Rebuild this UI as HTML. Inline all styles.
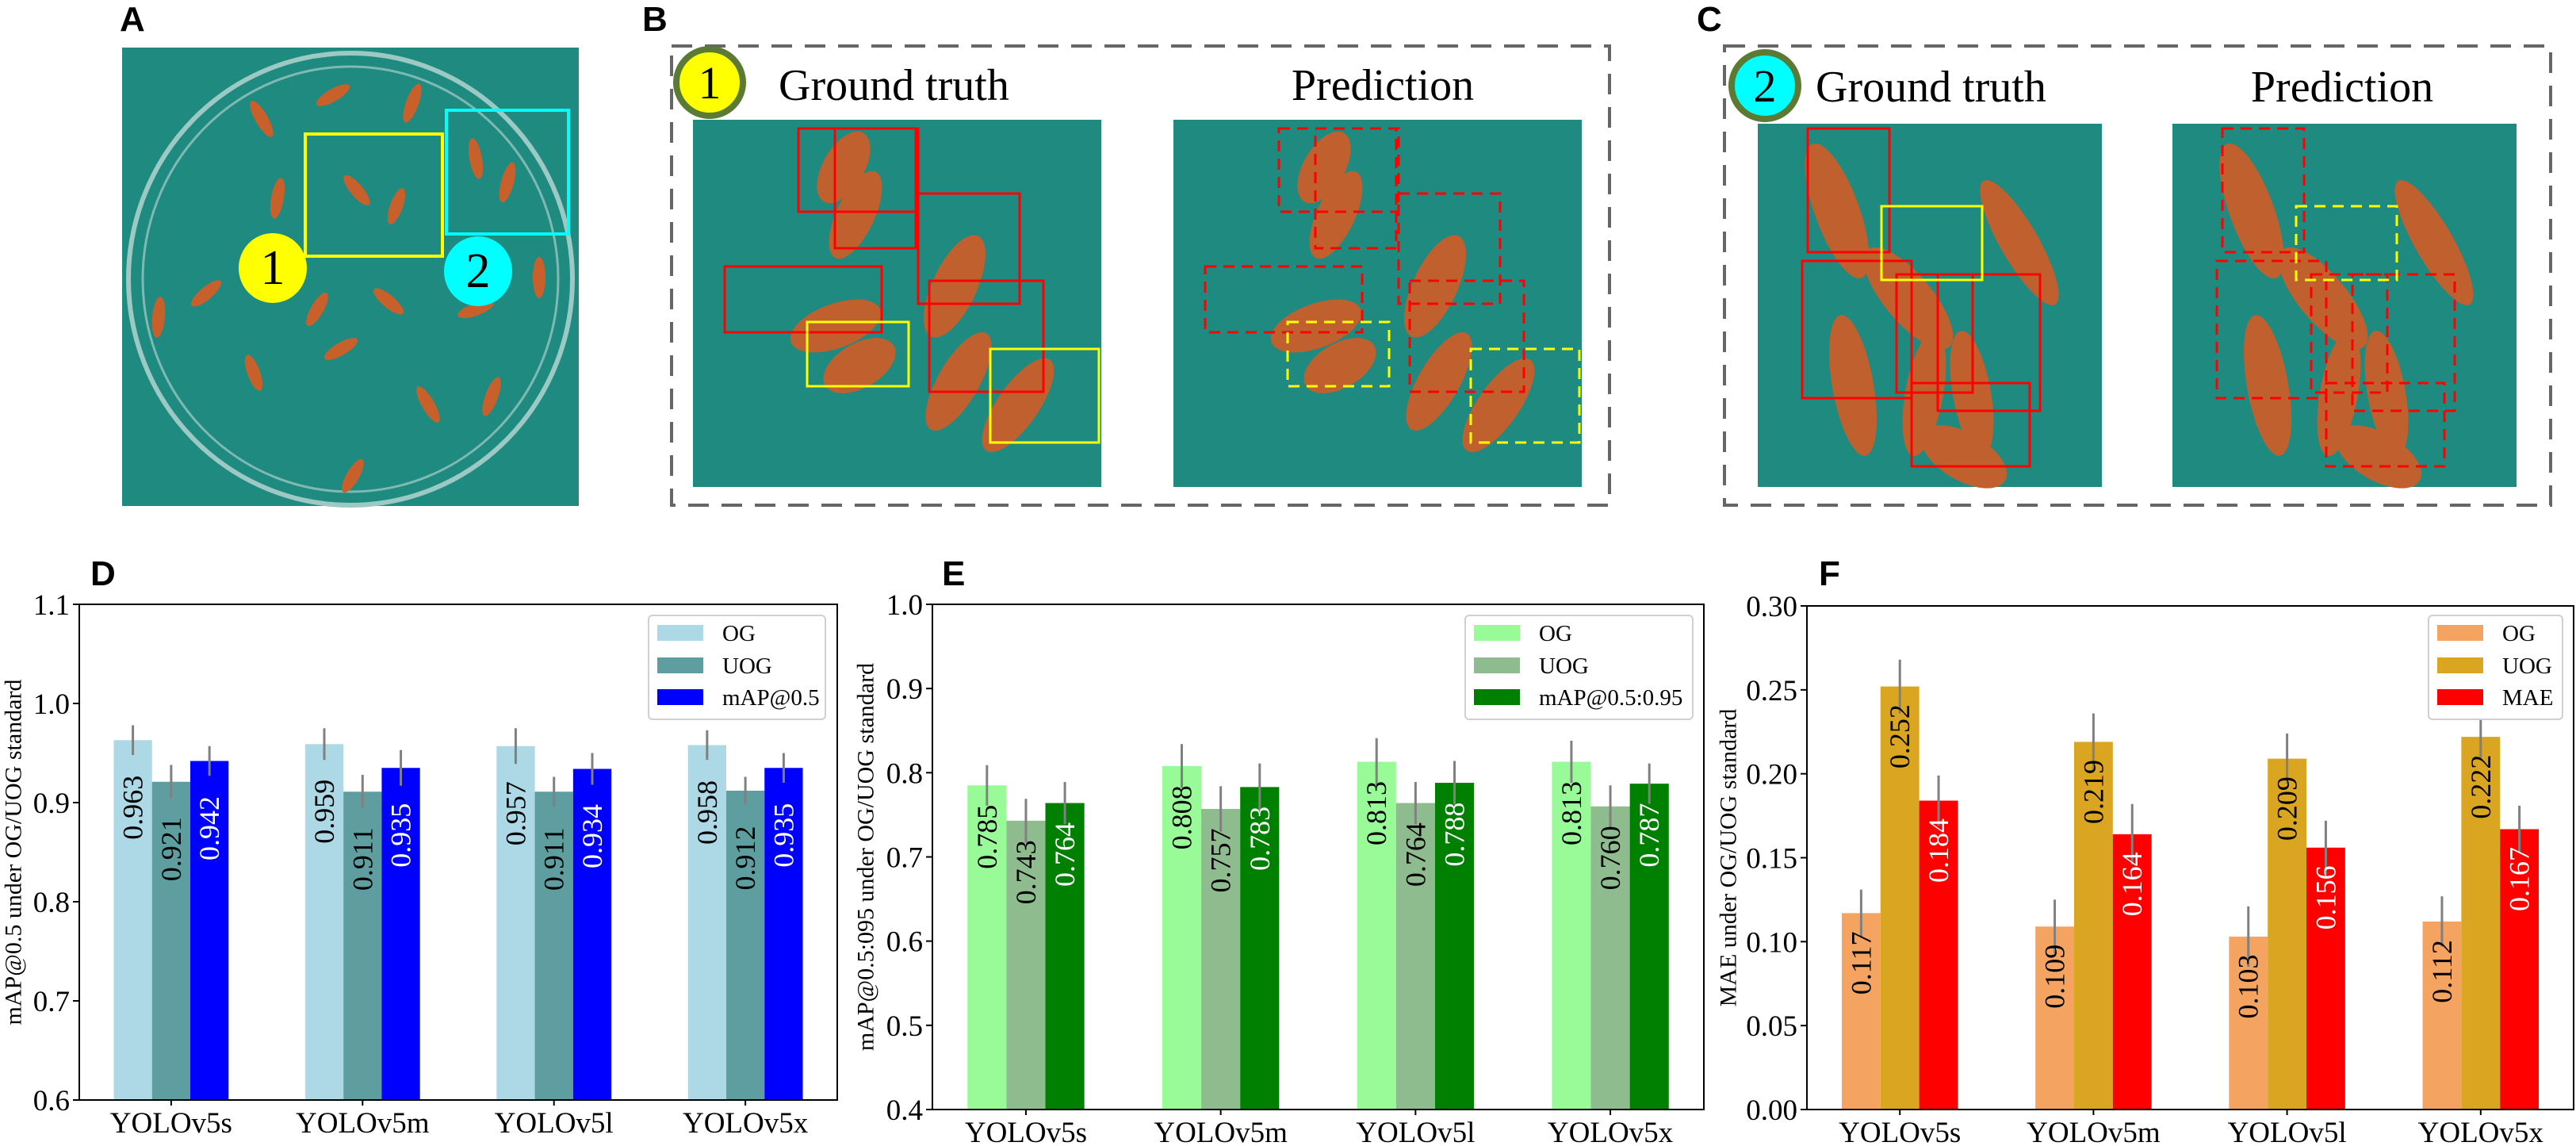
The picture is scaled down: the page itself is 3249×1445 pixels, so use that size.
<!DOCTYPE html>
<html><head><meta charset="utf-8">
<style>
html,body{margin:0;padding:0;background:#fff}
svg{display:block}
.serif{font-family:"Liberation Serif",serif}
.sans{font-family:"Liberation Sans",sans-serif;font-weight:bold}
</style></head>
<body>
<svg id="fig" width="3249" height="1445" viewBox="0 0 3249 1445" xmlns="http://www.w3.org/2000/svg">
  <!-- Panel A -->
  <text class="sans" x="151" y="39" font-size="44">A</text>
  <g>
    <rect x="154" y="60" width="576" height="578" fill="#1f8a80"/>
    <ellipse cx="442" cy="352" rx="280" ry="285" fill="none" stroke="#9cc9c4" stroke-width="6"/>
    <ellipse cx="442" cy="352" rx="262" ry="268" fill="none" stroke="#7fb9b3" stroke-width="3"/>
    <g fill="#c8602c">
      <ellipse cx="330" cy="150" rx="8" ry="26" transform="rotate(-30 330 150)"/>
      <ellipse cx="420" cy="120" rx="8" ry="24" transform="rotate(60 420 120)"/>
      <ellipse cx="520" cy="130" rx="8" ry="26" transform="rotate(20 520 130)"/>
      <ellipse cx="450" cy="240" rx="8" ry="24" transform="rotate(-40 450 240)"/>
      <ellipse cx="500" cy="260" rx="8" ry="24" transform="rotate(20 500 260)"/>
      <ellipse cx="600" cy="200" rx="8" ry="26" transform="rotate(-10 600 200)"/>
      <ellipse cx="640" cy="230" rx="8" ry="26" transform="rotate(15 640 230)"/>
      <ellipse cx="350" cy="250" rx="8" ry="26" transform="rotate(10 350 250)"/>
      <ellipse cx="260" cy="370" rx="8" ry="24" transform="rotate(50 260 370)"/>
      <ellipse cx="400" cy="390" rx="8" ry="24" transform="rotate(30 400 390)"/>
      <ellipse cx="490" cy="380" rx="8" ry="24" transform="rotate(-50 490 380)"/>
      <ellipse cx="600" cy="390" rx="8" ry="24" transform="rotate(70 600 390)"/>
      <ellipse cx="680" cy="350" rx="8" ry="26" transform="rotate(0 680 350)"/>
      <ellipse cx="320" cy="470" rx="8" ry="24" transform="rotate(-20 320 470)"/>
      <ellipse cx="430" cy="440" rx="8" ry="24" transform="rotate(60 430 440)"/>
      <ellipse cx="540" cy="510" rx="8" ry="26" transform="rotate(-30 540 510)"/>
      <ellipse cx="620" cy="500" rx="8" ry="26" transform="rotate(20 620 500)"/>
      <ellipse cx="445" cy="600" rx="8" ry="24" transform="rotate(30 445 600)"/>
      <ellipse cx="200" cy="400" rx="8" ry="26" transform="rotate(5 200 400)"/>
    </g>
    <rect x="385" y="169" width="173" height="154" fill="none" stroke="#ffff00" stroke-width="4"/>
    <rect x="563" y="139" width="154" height="156" fill="none" stroke="#00ffff" stroke-width="4"/>
    <ellipse cx="344" cy="338" rx="43" ry="44" fill="#ffff00"/>
    <text class="serif" x="344" y="358" font-size="62" text-anchor="middle">1</text>
    <ellipse cx="603" cy="342" rx="43" ry="44" fill="#00ffff"/>
    <text class="serif" x="603" y="362" font-size="62" text-anchor="middle">2</text>
  </g>

  <!-- Panel B -->
  <text class="sans" x="810" y="39" font-size="44">B</text>
  <rect x="847" y="58" width="1183" height="579" fill="none" stroke="#666" stroke-width="4" stroke-dasharray="26 16"/>
  <circle cx="895" cy="104" r="42" fill="#ffff00" stroke="#5b7a34" stroke-width="8"/>
  <text class="serif" x="895" y="124" font-size="58" text-anchor="middle">1</text>
  <text class="serif" x="982" y="126" font-size="56">Ground truth</text>
  <text class="serif" x="1744" y="126" font-size="56" text-anchor="middle">Prediction</text>
  <g id="bImgs"></g>

  <!-- Panel C -->
  <text class="sans" x="2140" y="39" font-size="44">C</text>
  <rect x="2175" y="58" width="1042" height="579" fill="none" stroke="#666" stroke-width="4" stroke-dasharray="26 16"/>
  <circle cx="2226" cy="108" r="42" fill="#00ffff" stroke="#5b7a34" stroke-width="8"/>
  <text class="serif" x="2226" y="128" font-size="58" text-anchor="middle">2</text>
  <text class="serif" x="2290" y="128" font-size="56">Ground truth</text>
  <text class="serif" x="2954" y="128" font-size="56" text-anchor="middle">Prediction</text>
  <g id="cImgs"></g>

  <g id="charts"></g>
</svg>

<script>
// ===== Chart data =====
const categories = ["YOLOv5s", "YOLOv5m", "YOLOv5l", "YOLOv5x"];

const dOG = [0.963, 0.959, 0.957, 0.958];
const dUOG = [0.921, 0.911, 0.911, 0.912];
const dMAP = [0.942, 0.935, 0.934, 0.935];
const dOGErr = [0.015, 0.016, 0.018, 0.015];
const dUOGErr = [0.017, 0.017, 0.015, 0.014];
const dMAPErr = [0.015, 0.018, 0.016, 0.015];
const dTicks = ["0.6", "0.7", "0.8", "0.9", "1.0", "1.1"];

const eOG = [0.785, 0.808, 0.813, 0.813];
const eUOG = [0.743, 0.757, 0.764, 0.760];
const eMAP = [0.764, 0.783, 0.788, 0.787];
const eOGErr = [0.024, 0.026, 0.028, 0.025];
const eUOGErr = [0.026, 0.027, 0.025, 0.025];
const eMAPErr = [0.025, 0.028, 0.026, 0.024];
const eTicks = ["0.4", "0.5", "0.6", "0.7", "0.8", "0.9", "1.0"];

const fOG = [0.117, 0.109, 0.103, 0.112];
const fUOG = [0.252, 0.219, 0.209, 0.222];
const fMAE = [0.184, 0.164, 0.156, 0.167];
const fOGErr = [0.014, 0.016, 0.018, 0.015];
const fUOGErr = [0.016, 0.017, 0.015, 0.014];
const fMAEErr = [0.015, 0.018, 0.016, 0.014];
const fTicks = ["0.00", "0.05", "0.10", "0.15", "0.20", "0.25", "0.30"];

const NS = "http://www.w3.org/2000/svg";
function mk(tag, attrs, parent) {
  const e = document.createElementNS(NS, tag);
  for (const k in attrs) e.setAttribute(k, attrs[k]);
  if (parent) parent.appendChild(e);
  return e;
}

// ===== Photo panels (approximate) =====
function photo(parent, name, x, y, w, h, boxes, dashed, seeds) {
  const g = mk("g", {}, parent);
  
  
  mk("rect", {x: x, y: y, width: w, height: h, fill: "#1f8a80"}, g);
  seeds.forEach(s => {
    mk("ellipse", {cx: x + s[0], cy: y + s[1], rx: s[2], ry: s[3], fill: "#c0602e",
      transform: "rotate(" + s[4] + " " + (x + s[0]) + " " + (y + s[1]) + ")"}, g);
  });
  boxes.forEach(b => {
    const r = mk("rect", {x: x + b[0], y: y + b[1], width: b[2], height: b[3], fill: "none",
      stroke: b[4], "stroke-width": 3}, g);
    if (dashed) r.setAttribute("stroke-dasharray", "14 9");
    
    
  });
}
const bSeeds = [[190,60,26,50,30],[205,120,24,60,25],[330,210,28,70,25],[180,260,60,28,-20],[210,310,50,28,-30],[335,330,26,70,30],[410,360,26,70,35]];
const bBoxes = [[133,11,151,105,"#ff0000"],[179,11,102,151,"#ff0000"],[40,185,198,83,"#ff0000"],[284,93,128,139,"#ff0000"],[298,203,144,140,"#ff0000"],[144,255,128,81,"#ffff00"],[375,289,137,118,"#ffff00"]];
const bImgs = document.getElementById("bImgs");
photo(bImgs, "panel-b-ground-truth-image", 874, 151, 515, 463, bBoxes, false, bSeeds);
photo(bImgs, "panel-b-prediction-image", 1480, 151, 515, 463, bBoxes, true, bSeeds);

const cSeeds = [[100,110,28,90,-20],[190,220,30,80,-40],[120,330,26,90,-10],[210,340,24,80,10],[270,340,24,80,-10],[260,420,60,30,30],[330,150,24,90,-30]];
const cBoxes = [[63,6,103,156,"#ff0000"],[56,173,138,173,"#ff0000"],[175,190,96,149,"#ff0000"],[227,190,129,172,"#ff0000"],[194,327,149,105,"#ff0000"],[156,104,127,93,"#ffff00"]];
const cImgs = document.getElementById("cImgs");
photo(cImgs, "panel-c-ground-truth-image", 2217, 156, 434, 458, cBoxes, false, cSeeds);
photo(cImgs, "panel-c-prediction-image", 2740, 156, 434, 458, cBoxes, true, cSeeds);

// ===== Bar charts =====
const chartsG = document.getElementById("charts");
function barChart(cfg) {
  const g = mk("g", {}, chartsG);
  
  
  const L = cfg.left, R = cfg.right, T = cfg.top, B = cfg.bottom;
  const xmin = -0.48, xmax = 3.48;
  const xs = v => L + (v - xmin) / (xmax - xmin) * (R - L);
  const ys = v => B - (v - cfg.ymin) / (cfg.ymax - cfg.ymin) * (B - T);

  const lbl = mk("text", {x: cfg.labelX, y: 738, "font-size": 44, class: "sans"}, g);
  lbl.textContent = cfg.letter;
  
  

  const bw = 0.2;
  cfg.series.forEach((s, si) => {
    const off = (si - 1) * bw;
    s.vals.forEach((v, i) => {
      const cx = xs(i + off);
      const x0 = xs(i + off - bw / 2), x1 = xs(i + off + bw / 2);
      const r = mk("rect", {x: x0, y: ys(v), width: x1 - x0, height: B - ys(v), fill: s.color}, g);
      
      
      const eb = mk("line", {x1: cx, x2: cx, y1: ys(v - s.err[i]), y2: ys(v + s.err[i]), stroke: "#808080", "stroke-width": 3}, g);
      
      
      const cy = ys(v) + cfg.labelOff;
      const t = mk("text", {x: cx, y: cy, "font-size": 36, class: "serif", fill: s.textColor,
        "text-anchor": "middle", "dominant-baseline": "central",
        transform: "rotate(-90 " + cx + " " + cy + ")"}, g);
      t.textContent = v.toFixed(3);
      
      
    });
  });

  const fr = mk("rect", {x: L, y: T, width: R - L, height: B - T, fill: "none", stroke: "#000", "stroke-width": 2}, g);
  
  

  cfg.ticks.forEach(tl => {
    const v = parseFloat(tl), y = ys(v);
    mk("line", {x1: L - 8, x2: L, y1: y, y2: y, stroke: "#000", "stroke-width": 2}, g);
    const t = mk("text", {x: L - 12, y: y + 13, "font-size": 37, class: "serif", "text-anchor": "end"}, g);
    t.textContent = tl;
    
    
  });
  categories.forEach((c, i) => {
    const x = xs(i);
    mk("line", {x1: x, x2: x, y1: B, y2: B + 7, stroke: "#000", "stroke-width": 2}, g);
    const t = mk("text", {x: x, y: B + 41, "font-size": 37, class: "serif", "text-anchor": "middle"}, g);
    t.textContent = c;
    
    
  });
  const my = (T + B) / 2;
  const yt = mk("text", {x: cfg.titleX, y: my, "font-size": 30, class: "serif", "text-anchor": "middle",
    "dominant-baseline": "central", transform: "rotate(-90 " + cfg.titleX + " " + my + ")"}, g);
  yt.textContent = cfg.yTitle;
  
  

  const lg = mk("g", {}, g);
  
  
  mk("rect", {x: cfg.leg[0], y: 776, width: cfg.leg[1] - cfg.leg[0], height: 131, rx: 5, fill: "#fff", stroke: "#d0d0d0", "stroke-width": 2}, lg);
  const rows = [798, 839, 879];
  cfg.series.forEach((s, si) => {
    const e = mk("g", {}, lg);
    
    
    mk("rect", {x: cfg.leg[0] + 11, y: rows[si] - 10, width: 58, height: 20, fill: s.color}, e);
    const t = mk("text", {x: cfg.leg[0] + 93, y: rows[si] + 10, "font-size": 29, class: "serif"}, e);
    t.textContent = s.label;
  });
}

barChart({name: "chart-d-map50", letter: "D", labelX: 114, left: 100, right: 1056, top: 762, bottom: 1387,
  ymin: 0.6, ymax: 1.1, ticks: dTicks, labelOff: 85, titleX: 17,
  yTitle: "mAP@0.5 under OG/UOG standard", leg: [818, 1041],
  series: [
    {key: "og", label: "OG", vals: dOG, err: dOGErr, color: "#add8e6", textColor: "#000"},
    {key: "uog", label: "UOG", vals: dUOG, err: dUOGErr, color: "#5f9ea0", textColor: "#000"},
    {key: "map", label: "mAP@0.5", vals: dMAP, err: dMAPErr, color: "#0000ff", textColor: "#fff"}]});

barChart({name: "chart-e-map50-95", letter: "E", labelX: 1188, left: 1176, right: 2149, top: 762, bottom: 1399,
  ymin: 0.4, ymax: 1.0, ticks: eTicks, labelOff: 65, titleX: 1092,
  yTitle: "mAP@0.5:095 under OG/UOG standard", leg: [1848, 2135],
  series: [
    {key: "og", label: "OG", vals: eOG, err: eOGErr, color: "#98fb98", textColor: "#000"},
    {key: "uog", label: "UOG", vals: eUOG, err: eUOGErr, color: "#8fbc8f", textColor: "#000"},
    {key: "map", label: "mAP@0.5:0.95", vals: eMAP, err: eMAPErr, color: "#008000", textColor: "#fff"}]});

barChart({name: "chart-f-mae", letter: "F", labelX: 2294, left: 2279, right: 3246, top: 764, bottom: 1399,
  ymin: 0, ymax: 0.30, ticks: fTicks, labelOff: 63, titleX: 2180,
  yTitle: "MAE under OG/UOG standard", leg: [3063, 3232],
  series: [
    {key: "og", label: "OG", vals: fOG, err: fOGErr, color: "#f4a460", textColor: "#000"},
    {key: "uog", label: "UOG", vals: fUOG, err: fUOGErr, color: "#daa520", textColor: "#000"},
    {key: "mae", label: "MAE", vals: fMAE, err: fMAEErr, color: "#ff0000", textColor: "#fff"}]});
</script>
</body></html>
